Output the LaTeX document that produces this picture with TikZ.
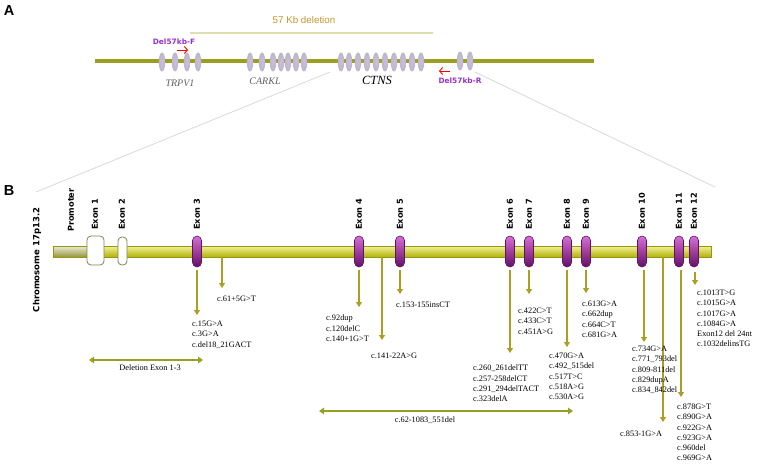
\documentclass[tikz,border=0pt]{standalone}
\usepackage{fontspec}
\setmainfont{Liberation Serif}
\setsansfont{DejaVu Sans}
\newfontfamily\arialfont{Liberation Sans}
\usetikzlibrary{arrows.meta,shapes.geometric}
\definecolor{olivebar}{RGB}{155,158,30}
\definecolor{mutarrow}{RGB}{170,158,35}
\definecolor{delarrow}{RGB}{150,160,35}
\definecolor{gold}{RGB}{195,150,45}
\definecolor{paleline}{RGB}{222,222,175}
\definecolor{zoomgrey}{RGB}{220,220,220}
\definecolor{primerpurple}{RGB}{150,50,210}
\definecolor{genegrey}{RGB}{95,95,95}
\definecolor{barlight}{RGB}{242,242,150}
\definecolor{barmid}{RGB}{222,222,30}
\definecolor{bardark}{RGB}{178,178,10}
\definecolor{baredge}{RGB}{150,150,20}
\definecolor{promtop}{RGB}{235,235,215}
\definecolor{prombot}{RGB}{150,150,60}
\definecolor{exontop}{RGB}{215,110,215}
\definecolor{exonmid}{RGB}{165,50,165}
\definecolor{exonbot}{RGB}{100,15,100}
\definecolor{exonedge}{RGB}{95,20,95}
\definecolor{ovalgrey}{RGB}{185,185,195}
\definecolor{ovalin}{RGB}{205,185,235}
\definecolor{wexonedge}{RGB}{130,130,80}
\begin{document}
\begin{tikzpicture}[x=1pt,y=-1pt,
  oval/.style={ellipse, minimum width=6.5pt, minimum height=19pt, inner sep=0pt, inner color=ovalin, outer color=ovalgrey},
  pexon/.style={rectangle, rounded corners=4.5pt, minimum width=9pt, minimum height=31pt, inner sep=0pt, top color=exontop, middle color=exonmid, bottom color=exonbot, draw=exonedge, line width=0.6pt},
  wexon/.style={rectangle, rounded corners=4pt, inner sep=0pt, fill=white, draw=wexonedge, line width=0.8pt},
  exlab/.style={rotate=90, anchor=west, font=\sffamily\bfseries\fontsize{8.2}{9}\selectfont, inner sep=0pt},
  mut/.style={anchor=north west, align=left, inner sep=0pt, font=\fontsize{8.3}{10.2}\selectfont},
  marr/.style={draw=mutarrow, line width=1.6pt, -{Triangle[width=6pt,length=5pt]}},
  darr/.style={draw=delarrow, line width=2.2pt, {Triangle[width=6.5pt,length=5pt]}-{Triangle[width=6.5pt,length=5pt]}},
  primer/.style={text=primerpurple, font=\sffamily\bfseries\fontsize{7.4}{8}\selectfont, inner sep=0pt},
  redarr/.style={draw=red, line width=0.9pt, -{Straight Barb[length=3pt,width=7pt]}},
  gene/.style={font=\itshape\fontsize{10}{11}\selectfont, text=genegrey, inner sep=0pt},
  panel/.style={font=\arialfont\bfseries\fontsize{14.5}{15}\selectfont, inner sep=0pt}
]
\useasboundingbox (0,0) rectangle (760,468);
% zoom lines
\coordinate (zl1) at (330,72); \coordinate (zl2) at (36,192);
\coordinate (zr1) at (475,72); \coordinate (zr2) at (715,187);
\draw[zoomgrey, line width=0.9pt] (zl1) -- (zl2);
\draw[zoomgrey, line width=0.9pt] (zr1) -- (zr2);
% Panel A
\node[panel] (pA) at (9,11) {A};
\node[font=\arialfont\fontsize{9.8}{11}\selectfont, text=gold, inner sep=0pt] (del57) at (304,20) {57 Kb deletion};
\coordinate (dl1) at (190,33); \coordinate (dl2) at (433,33);
\draw[paleline, line width=1.6pt] (dl1) -- (dl2);
\coordinate (ch1) at (95,61); \coordinate (ch2) at (594,61);
\draw[olivebar, line width=4.5pt] (ch1) -- (ch2);
\foreach \x [count=\i] in {162,175,187,198} \node[oval] (t\i) at (\x,62) {};
\foreach \x [count=\i] in {250,262,273,281,288,296,304} \node[oval] (c\i) at (\x,62) {};
\foreach \x [count=\i] in {341,349,358,367,376,385,394,403,412,421} \node[oval] (n\i) at (\x,62) {};
\foreach \x [count=\i] in {460,470} \node[oval] (r\i) at (\x,61) {};
\node[gene] (trpv) at (180,83) {TRPV1};
\node[gene] (carkl) at (265,81) {CARKL};
\node[font=\itshape\fontsize{12.5}{13}\selectfont, inner sep=0pt] (ctns) at (377,80) {CTNS};
\node[primer] (pf) at (174,42) {Del57kb-F};
\node[primer] (pr) at (460,81) {Del57kb-R};
\coordinate (pfa) at (177,50); \coordinate (pfb) at (188,50);
\draw[redarr] (pfa) -- (pfb);
\coordinate (pra) at (450,71); \coordinate (prb) at (439,71);
\draw[redarr] (pra) -- (prb);
% Panel B
\node[panel] (pB) at (9,191) {B};
\node[rotate=90, font=\sffamily\bfseries\fontsize{8.5}{9}\selectfont, inner sep=0pt] (chrom) at (37,260) {Chromosome 17p13.2};
% bar
\path[top color=barlight, middle color=barmid, bottom color=bardark, draw=baredge, line width=0.6pt] (87,246) rectangle (711,257);
\path[top color=promtop, middle color=white, bottom color=prombot, draw=baredge, line width=0.8pt] (53,246) rectangle (88,257);
% exons
\node[wexon, minimum width=17pt, minimum height=29pt] (e1) at (95.5,250.5) {};
\node[wexon, minimum width=9pt, minimum height=28pt] (e2) at (122.5,251) {};
\foreach \n/\x in {3/197,4/359,5/400,6/510,7/529,8/567,9/586,10/642,11/679,12/694}
  \node[pexon] (e\n) at (\x,251.5) {};
% exon labels
\node[exlab] (lprom) at (71,232) {Promoter};
\node[exlab] (l1) at (95,230) {Exon 1};
\node[exlab] (l2) at (122,230) {Exon 2};
\foreach \n in {3,...,12}
  \node[exlab] (l\n) at ([yshift=21.5pt]e\n.center) {Exon \n};
% intron points
\coordinate (i1) at (222,257);
\coordinate (i2) at (382,257);
\coordinate (i3) at (663,257);
% mutation arrows
\draw[marr] ([yshift=-3pt]e3.south) -- (e3.south |- 0,315);
\draw[marr] (i1) -- (i1 |- 0,288);
\draw[marr] ([yshift=-3pt]e4.south) -- (e4.south |- 0,307);
\draw[marr] (i2) -- (i2 |- 0,340);
\draw[marr] ([yshift=-3pt]e5.south) -- (e5.south |- 0,294);
\draw[marr] ([yshift=-3pt]e6.south) -- (e6.south |- 0,353);
\draw[marr] ([yshift=-3pt]e7.south) -- (e7.south |- 0,294);
\draw[marr] ([yshift=-3pt]e8.south) -- (e8.south |- 0,347);
\draw[marr] ([yshift=-3pt]e9.south) -- (e9.south |- 0,293);
\draw[marr] ([yshift=-3pt,xshift=2pt]e10.south) -- ([xshift=2pt]e10.south |- 0,342);
\draw[marr] (i3) -- (i3 |- 0,422);
\draw[marr] ([yshift=-3pt,xshift=2pt]e11.south) -- ([xshift=2pt]e11.south |- 0,397);
\draw[marr] ([yshift=-5pt,xshift=1pt]e12.south) -- ([xshift=1pt]e12.south |- 0,285);
% mutation labels
\node[mut] (m3) at (192,321) {c.15G>A\\c.3G>A\\c.del18\_21GACT};
\node[mut] (mi1) at (217,296) {c.61+5G>T};
\node[mut] (m4) at (326,315) {c.92dup\\c.120delC\\c.140+1G>T};
\node[mut] (mi2) at (371,353) {c.141-22A>G};
\node[mut] (m5) at (396,302) {c.153-155insCT};
\node[mut] (m6) at (473,365) {c.260\_261delTT\\c.257-258delCT\\c.291\_294delTACT\\c.323delA};
\node[mut] (m7) at (518,308) {c.422C>T\\c.433C>T\\c.451A>G};
\node[mut] (m8) at (549,353) {c.470G>A\\c.492\_515del\\c.517T>C\\c.518A>G\\c.530A>G};
\node[mut] (m9) at (582,301) {c.613G>A\\c.662dup\\c.664C>T\\c.681G>A};
\node[mut] (m10) at (632,346) {c.734G>A\\c.771\_793del\\c.809-811del\\c.829dupA\\c.834\_842del};
\node[mut] (mi3) at (620,431) {c.853-1G>A};
\node[mut] (m11) at (677,404) {c.878G>T\\c.890G>A\\c.922G>A\\c.923G>A\\c.960del\\c.969G>A};
\node[mut] (m12) at (697,290) {c.1013T>G\\c.1015G>A\\c.1017G>A\\c.1084G>A\\Exon12 del 24nt\\c.1032delinsTG};
% deletions
\coordinate (d1a) at (89,360); \coordinate (d1b) at (203,360);
\draw[darr] (d1a) -- (d1b);
\node[font=\fontsize{8.3}{9}\selectfont, inner sep=0pt] (d1l) at (150,368) {Deletion Exon 1-3};
\coordinate (d2a) at (319,411); \coordinate (d2b) at (573,411);
\draw[darr] (d2a) -- (d2b);
\node[font=\fontsize{8.3}{9}\selectfont, inner sep=0pt] (d2l) at (425,420) {c.62-1083\_551del};
\end{tikzpicture}
\end{document}
